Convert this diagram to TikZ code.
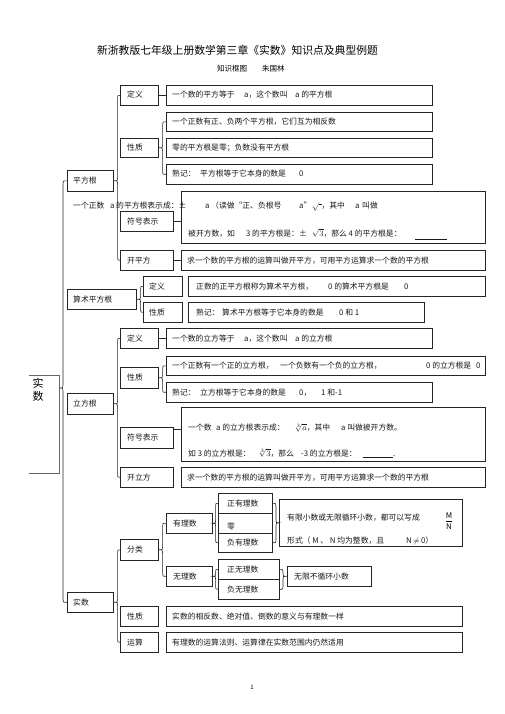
\documentclass[tikz,border=0pt]{standalone}
\usepackage{fontspec}
\setmainfont{Noto Sans CJK SC}
\usetikzlibrary{calc}
\tikzset{
  bx/.style={draw=black!85, line width=0.6pt, rectangle, anchor=north west, inner sep=0pt},
  txs/.style={anchor=base west, inner sep=0pt, text=black!90},
  conn/.style={draw=black!85, line width=0.6pt},
  frm/.style={draw=black!60, line width=0.5pt}
}
\newcommand\mkbox[5]{\node[bx, minimum width={#4pt-#2pt}, minimum height={#5pt-#3pt}] (#1) at (#2,#3) {};}
\newcommand\tx[4]{\node[txs] (#1) at (#2,#3+3) {#4};}
\newcommand\brc[4]{\draw[conn] let \p1=(#1), \p2=(#2), \p3=(#3) in
  (\x2,\y2) .. controls ({\x1+(#4)},\y2) .. ({\x1+(#4)},{\y2-3pt})
  -- ({\x1+(#4)},{\y1+3pt}) .. controls ({\x1+(#4)},\y1) .. (\x1,\y1)
  .. controls ({\x1+(#4)},\y1) .. ({\x1+(#4)},{\y1-3pt})
  -- ({\x1+(#4)},{\y3+3pt}) .. controls ({\x1+(#4)},\y3) .. (\x3,\y3);}
\begin{document}
\begin{tikzpicture}[x=1pt,y=-1pt,font=\fontsize{7.8}{9.4}\selectfont]
\fill[white] (0,0) rectangle (505,714);
\useasboundingbox (0,0) rectangle (505,714);

% title
\node[font=\fontsize{10.8}{12}\selectfont] (title) at (237.5,50) {新浙教版七年级上册数学第三章《实数》知识点及典型例题};
\node[anchor=west, inner sep=0pt, font=\fontsize{7.5}{9}\selectfont] (sub) at (217,69) {知识框图\hspace{15pt}朱国林};

% root
\node[font=\fontsize{11}{12.5}\selectfont, align=center, inner sep=0pt] (root) at (38,390) {实\\数};
\draw[frm] (29,375) -- (59,375) -- (59,473) -- (29,473);
\coordinate (roottip) at (59,388);

% ===== 平方根 =====
\mkbox{b1def}{120}{85}{158}{105}
\mkbox{b1deft}{166}{85}{432}{105}
\mkbox{b1xz}{120}{138}{158}{157}
\mkbox{b1p1}{166}{112}{432}{131}
\mkbox{b1p2}{166}{138}{432}{157}
\mkbox{b1p3}{166}{164}{432}{184}
\mkbox{pfg}{67}{170}{113}{191}
\mkbox{fh1}{120}{211}{173}{231}
\mkbox{fh1t}{181}{191}{485}{243}
\mkbox{kpf}{120}{250}{173}{270}
\mkbox{kpft}{181}{250}{485}{270}

\tx{a1}{127}{95}{定义}
\tx{a2}{172}{95}{一个数的平方等于}
\tx{a3}{244}{95}{a，这个数叫}
\tx{a4}{295}{95}{a 的平方根}
\tx{a5}{127}{147.5}{性质}
\tx{a6}{172}{121.5}{一个正数有正、负两个平方根，它们互为相反数}
\tx{a7}{172}{147.5}{零的平方根是零；负数没有平方根}
\tx{a8}{172}{174}{熟记：}
\tx{a9}{200}{174}{平方根等于它本身的数是}
\tx{a10}{299}{174}{0}
\tx{a11}{73}{180.5}{平方根}
\tx{a12}{127}{221}{符号表示}
\tx{a13}{73}{205}{一个正数}
\tx{a14}{110}{205}{a}
\tx{a15}{116}{205}{的平方根表示成：±}
\tx{a16}{205}{205}{a}
\tx{a17}{211}{205}{（读做“正、负根号}
\tx{a18}{299}{205}{a”}
\tx{a19}{312}{205}{$\sqrt{\;}$，其中}
\tx{a20}{355}{205}{a}
\tx{a21}{362}{205}{叫做}
\tx{a22}{188}{233}{被开方数，如}
\tx{a23}{246}{233}{3}
\tx{a24}{252}{233}{的平方根是：±}
\tx{a25}{312}{233}{$\sqrt{3}$，那么 4 的平方根是：}
\tx{a26}{415}{233}{\rule[-3pt]{32pt}{0.4pt}}
\tx{a27}{127}{260}{开平方}
\tx{a28}{187}{260}{求一个数的平方根的运算叫做开平方，可用平方运算求一个数的平方根}

\draw[conn] (b1def.east) -- (b1deft.west);
\draw[conn] (fh1.east) -- (fh1.east -| fh1t.west);
\draw[conn] (kpf.east) -- (kpft.west);

% ===== 算术平方根 =====
\mkbox{ss}{67}{289}{136}{309}
\mkbox{ssdef}{143}{276}{182}{296}
\mkbox{ssdeft}{188}{276}{485}{296}
\mkbox{ssxz}{143}{302}{182}{322}
\mkbox{ssxzt}{188}{302}{424}{322}
\tx{b1}{73}{299}{算术平方根}
\tx{b2}{149}{286}{定义}
\tx{b3}{196}{286}{正数的正平方根称为算术平方根，}
\tx{b4}{328}{286}{0 的算术平方根是}
\tx{b5}{404}{286}{0}
\tx{b6}{149}{312}{性质}
\tx{b7}{196}{312}{熟记：}
\tx{b8}{222}{312}{算术平方根等于它本身的数是}
\tx{b9}{339}{312}{0 和 1}

% ===== 立方根 =====
\mkbox{lfdef}{120}{328}{158}{348}
\mkbox{lfdeft}{166}{328}{432}{348}
\mkbox{lfxz}{120}{367}{158}{388}
\mkbox{lfp1}{166}{356}{485}{375}
\mkbox{lfp2}{166}{382}{432}{402}
\mkbox{lf}{67}{393}{113}{414}
\mkbox{lffh}{120}{427}{173}{448}
\mkbox{lffht}{181}{407}{485}{461}
\mkbox{kl}{120}{467}{173}{487}
\mkbox{klt}{181}{467}{485}{487}
\tx{c1}{127}{338}{定义}
\tx{c2}{172}{338}{一个数的立方等于}
\tx{c3}{244}{338}{a，这个数叫}
\tx{c4}{295}{338}{a 的立方根}
\tx{c5}{127}{377.5}{性质}
\tx{c6}{172}{365.5}{一个正数有一个正的立方根，}
\tx{c7}{280}{365.5}{一个负数有一个负的立方根，}
\tx{c8}{426}{365.5}{0 的立方根是}
\tx{c9}{476}{365.5}{0}
\tx{c10}{172}{392}{熟记：}
\tx{c11}{200}{392}{立方根等于它本身的数是}
\tx{c12}{299}{392}{0，}
\tx{c13}{321}{392}{1 和-1}
\tx{c14}{73}{403.5}{立方根}
\tx{c15}{127}{437.5}{符号表示}
\tx{c16}{188}{427}{一个数}
\tx{c17}{216}{427}{a 的立方根表示成：}
\tx{c18}{294}{427}{$\sqrt[3]{a}$，其中}
\tx{c19}{341}{427}{a 叫做被开方数。}
\tx{c20}{188}{453}{如 3 的立方根是：}
\tx{c21}{258}{453}{$\sqrt[3]{3}$，那么}
\tx{c22}{301}{453}{-3 的立方根是：}
\tx{c23}{363}{453}{\rule[-1.5pt]{30pt}{0.4pt}.}
\tx{c24}{127}{477}{开立方}
\tx{c25}{187}{477}{求一个数的平方根的运算叫做开平方，可用平方运算求一个数的平方根}

\draw[conn] (lfdef.east) -- (lfdeft.west);
\draw[conn] ($(lffh.north east)+(0,2)$) -- ($(lffh.north east)+(8,2)$);

% ===== 实数 =====
\mkbox{zyl}{218}{493}{272}{513}
\mkbox{ling}{218}{513}{272}{533}
\mkbox{fyl}{218}{533}{272}{552}
\mkbox{yl}{166}{513}{212}{533}
\mkbox{ylt}{279}{499}{462}{546}
\mkbox{fl}{120}{539}{158}{560}
\mkbox{wl}{166}{566}{212}{586}
\mkbox{zwl}{218}{559}{279}{579}
\mkbox{fwl}{218}{579}{279}{599}
\mkbox{wlt}{287}{566}{371}{586}
\mkbox{sr}{67}{592}{113}{612}
\mkbox{srxz}{120}{606}{158}{626}
\mkbox{srxzt}{166}{606}{462}{626}
\mkbox{srys}{120}{632}{158}{652}
\mkbox{sryst}{166}{632}{462}{652}
\tx{d1}{227}{503}{正有理数}
\tx{d2}{227}{526}{零}
\tx{d3}{227}{542.5}{负有理数}
\tx{d4}{173}{523}{有理数}
\tx{d5}{287}{517}{有限小数或无限循环小数，都可以写成}
\node[inner sep=0pt] (d6) at (449,521) {$\displaystyle\frac{\mathrm{M}}{\mathrm{N}}$};
\tx{d7}{287}{540}{形式（ M 、 N 均为整数，且}
\tx{d8}{406}{540}{N\,$\neq$\,0）}
\tx{d9}{127}{549.5}{分类}
\tx{d10}{173}{576}{无理数}
\tx{d11}{227}{569}{正无理数}
\tx{d12}{227}{589}{负无理数}
\tx{d13}{294}{576}{无限不循环小数}
\tx{d14}{73}{602}{实数}
\tx{d15}{127}{616}{性质}
\tx{d16}{172}{616}{实数的相反数、绝对值、倒数的意义与有理数一样}
\tx{d17}{127}{642}{运算}
\tx{d18}{172}{642}{有理数的运算法则、运算律在实数范围内仍然适用}

% braces
\brc{roottip}{pfg.west}{sr.west}{4pt}
\brc{pfg.east}{b1def.west}{kpf.west}{4pt}
\brc{b1xz.east}{b1p1.west}{b1p3.west}{4pt}
\brc{ss.east}{ssdef.west}{ssxz.west}{4pt}
\brc{lf.east}{lfdef.west}{kl.west}{4pt}
\brc{lfxz.east}{lfp1.west}{lfp2.west}{4pt}
\brc{sr.east}{fl.west}{srys.west}{4pt}
\brc{fl.east}{yl.west}{wl.west}{4pt}
\brc{yl.east}{zyl.west}{fyl.west}{3pt}
\brc{wl.east}{zwl.west}{fwl.west}{3pt}
\brc{ylt.west}{zyl.east}{fyl.east}{-3pt}
\brc{wlt.west}{zwl.east}{fwl.east}{-4pt}

% page number
\node[font=\fontsize{6}{7}\selectfont] (pg) at (252,687) {1};
\end{tikzpicture}
\end{document}
